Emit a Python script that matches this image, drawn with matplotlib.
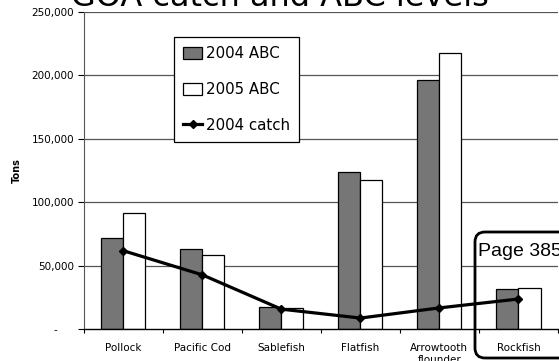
import numpy as np
import matplotlib.pyplot as plt
from matplotlib.patches import FancyBboxPatch
from matplotlib.transforms import IdentityTransform
from matplotlib.ticker import FuncFormatter, FixedLocator

# Daten
species = ['Pollock', 'Pacific Cod', 'Sablefish', 'Flatfish', 'Arrowtooth\nflounder', 'Rockfish']
abc_2004 = [72000, 63000, 17500, 124000, 196500, 32000]
abc_2005 = [92000, 59000, 17000, 118000, 218000, 33000]
catch_2004 = [62000, 43000, 16000, 9000, 17000, 24000]
y_ticks = [0, 50000, 100000, 150000, 200000, 250000]

fig = plt.figure(figsize=(5.59, 3.61), dpi=100)
ax = fig.add_axes([0.150, 0.0873, 0.848, 0.8795])

x = np.arange(len(species))
w = 0.28

# Gitterlinien hinter den Balken
for yv in y_ticks[1:]:
    ax.axhline(yv, color='#555555', lw=0.9, zorder=0)

b1 = ax.bar(x - w / 2, abc_2004, w, color='#767676', edgecolor='black', lw=0.9, label='2004 ABC', zorder=2)
b2 = ax.bar(x + w / 2, abc_2005, w, color='white', edgecolor='black', lw=0.9, label='2005 ABC', zorder=2)
l1, = ax.plot(x, catch_2004, color='black', lw=2.3, marker='D', ms=4, label='2004 catch', zorder=3)

ax.set_xlim(-0.5, len(species) - 0.5)
ax.set_ylim(0, 250000)
ax.set_yticks(y_ticks)
ax.yaxis.set_major_formatter(FuncFormatter(lambda v, p: '-     ' if v == 0 else f'{v:,.0f}'))
ax.tick_params(axis='y', labelsize=7.5, length=4, width=0.8, pad=3)

ax.set_xticks(x)
ax.set_xticklabels(species, fontsize=7.5)
ax.xaxis.set_minor_locator(FixedLocator(np.arange(-0.5, len(species), 1.0)))
ax.tick_params(axis='x', which='major', length=0, pad=10)
ax.tick_params(axis='x', which='minor', length=3, width=0.8)

ax.spines['top'].set_visible(False)
ax.spines['right'].set_visible(False)
ax.spines['left'].set_color('#555555')
ax.spines['bottom'].set_linewidth(1.0)

ax.set_ylabel('Tons', fontsize=7, fontweight='bold', labelpad=7)

leg = ax.legend([b1, b2, l1], ['2004 ABC', '2005 ABC', '2004 catch'],
                loc='upper left', bbox_to_anchor=(0.19, 0.921), fontsize=10.8,
                fancybox=False, framealpha=1, edgecolor='black',
                handlelength=1.3, handleheight=0.85, handletextpad=0.25,
                labelspacing=1.4, borderpad=0.6, borderaxespad=0)
leg.get_frame().set_linewidth(0.9)

# Titel, oben abgeschnitten
fig.text(0.5, 1 - 6 / 361, 'GOA catch and ABC levels', fontsize=23,
         ha='center', va='baseline')

# Seitenangabe mit abgerundetem Rahmen
box = FancyBboxPatch((475, 3), 160, 126, boxstyle='round,pad=0,rounding_size=10',
                     transform=IdentityTransform(), fill=False, ec='black', lw=2, zorder=10)
fig.patches.append(box)
fig.text(478 / 559, 1 - 256 / 361, 'Page 385', fontsize=14,
         family='Liberation Sans', ha='left', va='baseline')

fig.savefig('out.png', dpi=100)
